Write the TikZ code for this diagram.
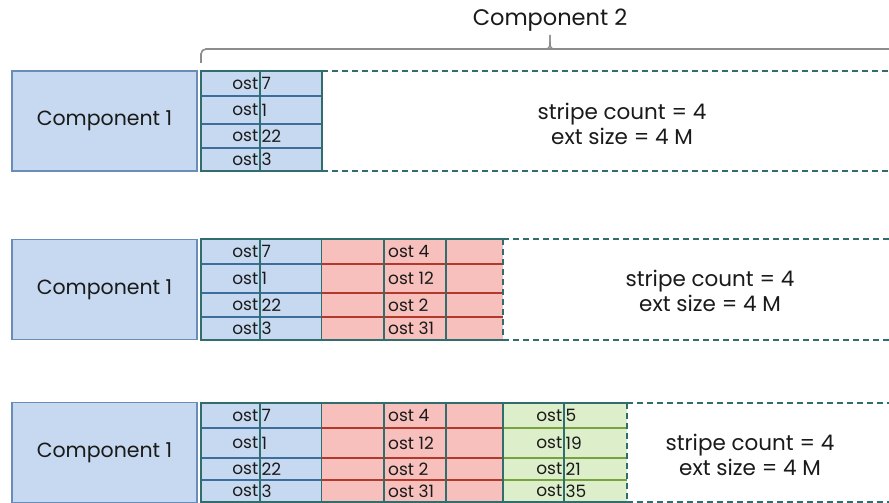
\documentclass[tikz,border=0pt]{standalone}
\usepackage{fontspec}
\setmainfont{Poppins}
\definecolor{bfill}{HTML}{C6D9F0}
\definecolor{bline}{HTML}{3D6D9B}
\definecolor{tealc}{HTML}{2F6E6C}
\definecolor{rfill}{HTML}{F7C0BC}
\definecolor{rline}{HTML}{B0392B}
\definecolor{gfill}{HTML}{DDEFCA}
\definecolor{gline}{HTML}{77A23F}
\definecolor{cline}{HTML}{6A8CB8}
\definecolor{brk}{HTML}{8C8C8C}
\definecolor{txt}{HTML}{1A1A1A}
\begin{document}
\begin{tikzpicture}[x=1pt,y=-1pt,
  compbox/.style={draw=cline,fill=bfill,line width=1.3pt,minimum width=185pt,minimum height=100pt,inner sep=0pt,font=\fontsize{20.5}{24}\selectfont,text=txt},
  celltxt/.style={inner sep=1pt,font=\fontsize{17}{19}\selectfont,text=txt},
  infotxt/.style={align=center,font=\fontsize{21.5}{25}\selectfont,text=txt},
  dashline/.style={draw=tealc,line width=1.2pt,dash pattern=on 6pt off 4pt},
  tealline/.style={draw=tealc,line width=1.2pt},
  innerb/.style={draw=bline,line width=1.5pt},
  innerr/.style={draw=rline,line width=1.5pt},
  innerg/.style={draw=gline,line width=1.5pt}]
\useasboundingbox (0,0) rectangle (889,503);
\fill[white] (0,0) rectangle (889,503);

% bracket and title
\draw[brk,line width=1.6pt,rounded corners=5pt] (201,63) -- (201,49) -- (889,49);
\draw[brk,line width=1.4pt] (546,49) .. controls (550,48) .. (550,35);
\draw[brk,line width=1.4pt] (554,49) .. controls (550,48) .. (550,35);
\node[font=\fontsize{22.5}{26}\selectfont,text=txt] (comp2) at (550,20) {Component 2};

\foreach \r/\a/\b/\c/\d/\e in {1/71/96/124/148/171, 2/239/264/293/317/340, 3/403/428/458/480/502}{
  \node[compbox] (c1-\r) at (104.5,{(\a+\e)/2}) {Component 1};
  \fill[bfill] (201,\a) rectangle (322,\e);
  \draw[innerb] (201,\b) -- (322,\b) (201,\c) -- (322,\c) (201,\d) -- (322,\d);
  \draw[tealline] (201,\a) rectangle (322,\e);
  \draw[tealline] (260,\a) -- (260,\e);
  \pgfmathsetmacro{\ya}{(\a+\b)/2}
  \pgfmathsetmacro{\yb}{(\b+\c)/2}
  \pgfmathsetmacro{\yc}{(\c+\d)/2}
  \pgfmathsetmacro{\yd}{(\d+\e)/2}
  \foreach \y/\n/\k in {\ya/7/a,\yb/1/b,\yc/22/c,\yd/3/d}{
    \node[celltxt,anchor=east] (bo-\r\k) at (259.5,\y) {ost};
    \node[celltxt,anchor=west] (bn-\r\k) at (260.5,\y) {\n};
  }
}

% row 1 dashed region
\draw[dashline] (322,71) -- (889,71) (322,171) -- (889,171) (322,71) -- (322,171);
\node[infotxt] (info1) at (622,124) {stripe count = 4\\ext size = 4 M};

% rows 2,3 red
\foreach \r/\a/\b/\c/\d/\e in {2/239/264/293/317/340, 3/403/428/458/480/502}{
  \fill[rfill] (322,\a) rectangle (503,\e);
  \draw[innerr] (322,\b) -- (503,\b) (322,\c) -- (503,\c) (322,\d) -- (503,\d);
  \draw[tealline] (322,\a) -- (503,\a) (322,\e) -- (503,\e);
  \draw[tealline] (384,\a) -- (384,\e) (446,\a) -- (446,\e);
  \pgfmathsetmacro{\ya}{(\a+\b)/2}
  \pgfmathsetmacro{\yb}{(\b+\c)/2}
  \pgfmathsetmacro{\yc}{(\c+\d)/2}
  \pgfmathsetmacro{\yd}{(\d+\e)/2}
  \foreach \y/\n/\k in {\ya/4/a,\yb/12/b,\yc/2/c,\yd/31/d}{
    \node[celltxt,anchor=west] (ro-\r\k) at (387,\y) {ost \n};
  }
}
\draw[dashline] (503,239) -- (889,239) (503,340) -- (889,340) (503,239) -- (503,340);
\node[infotxt] (info2) at (710,291) {stripe count = 4\\ext size = 4 M};

% row 3 green
\fill[gfill] (503,403) rectangle (627,502);
\draw[innerg] (503,428) -- (627,428) (503,458) -- (627,458) (503,480) -- (627,480);
\draw[tealline] (503,403) -- (627,403) (503,502) -- (627,502);
\draw[tealline] (503,403) -- (503,502) (564,403) -- (564,502);
\foreach \y/\n/\k in {415.5/5/a,443/19/b,469/21/c,491/35/d}{
  \node[celltxt,anchor=east] (go-\k) at (563.5,\y) {ost};
  \node[celltxt,anchor=west] (gn-\k) at (564.5,\y) {\n};
}
\draw[dashline] (627,403) -- (889,403) (627,502) -- (889,502) (627,403) -- (627,502);
\node[infotxt] (info3) at (750,455) {stripe count = 4\\ext size = 4 M};
\end{tikzpicture}
\end{document}
